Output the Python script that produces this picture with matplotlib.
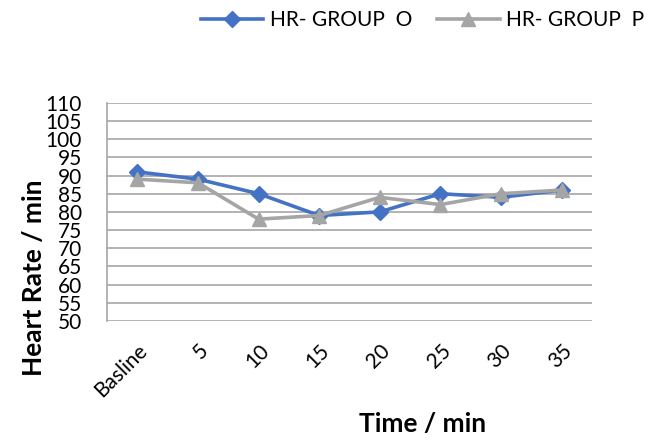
import numpy as np
import matplotlib
matplotlib.use("Agg")
import matplotlib.pyplot as plt

plt.rcParams['font.family'] = ['Lato', 'DejaVu Sans']

categories = ["Basline", "5", "10", "15", "20", "25", "30", "35"]
hr_group_o = [91, 89, 85, 79, 80, 85, 84, 86]
hr_group_p = [89, 88, 78, 79, 84, 82, 85, 86]
yticks = list(range(50, 111, 5))

fig = plt.figure(figsize=(6.57, 4.47), dpi=100)
ax = fig.add_axes([0.163, 0.282, 0.738, 0.488])
x = np.arange(len(categories))

ax.plot(x, hr_group_o, color="#4472c4", lw=2.6, marker="D", ms=8,
        label="HR- GROUP  O", zorder=3)
ax.plot(x, hr_group_p, color="#a5a5a5", lw=2.6, marker="^", ms=10,
        label="HR- GROUP  P", zorder=4)

ax.set_xlim(-0.5, len(categories) - 0.5)
ax.set_ylim(50, 110)
ax.set_yticks(yticks)
ax.set_yticklabels([str(v) for v in yticks], fontsize=15)
ax.set_xticks(x)
ax.set_xticklabels(categories, rotation=45, ha="right", va="top",
                   rotation_mode="anchor", fontsize=15)
ax.tick_params(axis="y", length=0, pad=18)
ax.tick_params(axis="x", length=0, pad=14)
ax.grid(axis="y", color="#a6a6a6", lw=1.2)
ax.set_axisbelow(True)
for s in ["top", "right", "bottom"]:
    ax.spines[s].set_visible(False)
ax.spines["left"].set_color("#a6a6a6")
ax.spines["left"].set_linewidth(1.2)

# axis titles sit off-centre in the original
ax.set_xlabel("Time / min", fontsize=19, fontweight="bold", labelpad=8)
ax.set_ylabel("Heart Rate / min", fontsize=19, fontweight="bold", labelpad=0)
ax.xaxis.label.set_x(0.65)
ax.yaxis.label.set_y(0.20)

fig.legend(loc="upper center", bbox_to_anchor=(0.643, 1.02), ncol=2,
           frameon=False, fontsize=15, handlelength=3, columnspacing=1.2,
           handletextpad=0.3)

fig.savefig("out.png", dpi=100)
